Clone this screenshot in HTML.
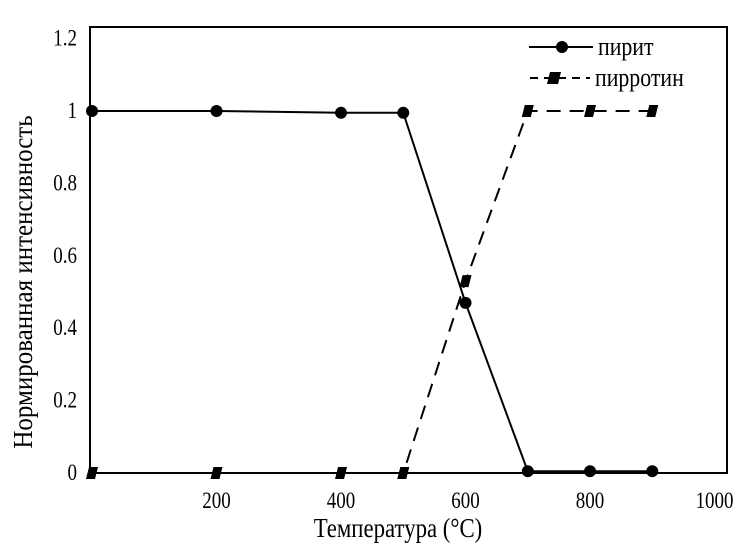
<!DOCTYPE html>
<html><head><meta charset="utf-8"><style>
body{margin:0;background:#fff}
svg{display:block;font-family:"Liberation Serif",serif}
</style></head><body>
<svg width="745" height="553" viewBox="0 0 745 553" id="chart">
<rect x="90" y="27" width="637" height="446" fill="none" stroke="#000" stroke-width="2"/>
<g id="ticks"></g>
<g id="series"></g>
<text transform="translate(398,537) scale(0.95,1.15)" font-size="24" text-anchor="middle">Температура (°C)</text>
<text transform="translate(32,282) rotate(-90) scale(1,1.1)" font-size="25" text-anchor="middle">Нормированная интенсивность</text>
<g>
<g>
<line x1="529" y1="47" x2="593" y2="47" stroke="#000" stroke-width="2"/>
<circle cx="562" cy="47" r="6" fill="#000"/>
<text transform="translate(598,55) scale(0.95,1.15)" font-size="23">пирит</text>
</g>
<g>
<line x1="530" y1="78" x2="590" y2="78" stroke="#000" stroke-width="2" stroke-dasharray="8,6"/>
<polygon points="550,72 561,72 558,84 547,84" fill="#000"/>
<text transform="translate(595,86) scale(0.95,1.15)" font-size="23">пирротин</text>
</g>
</g>
</svg>
<script>
const temps=[0,200,400,500,600,700,800,900];
const pyrite=[1,1,0.995,0.995,0.47,0.005,0.005,0.005];
const pyrrhotite=[0,0,0,0,0.53,1,1,1];
const xTicks=[200,400,600,800,1000];
const yTicks=[0,0.2,0.4,0.6,0.8,1,1.2];
const yTickLabels=["0","0.2","0.4","0.6","0.8","1","1.2"];
const NS="http://www.w3.org/2000/svg";
const X=v=>92+v*(727-92)/1020;
const Y=v=>473-v*362;
const tk=document.getElementById('ticks'),sr=document.getElementById('series');
function mk(tag,a,p){const e=document.createElementNS(NS,tag);for(const k in a)e.setAttribute(k,a[k]);p.appendChild(e);return e;}
xTicks.forEach(t=>{const e=mk('text',{transform:`translate(${X(t)},508) scale(0.95,1.15)`,'font-size':20,'text-anchor':'middle'},tk);e.textContent=t;

});
yTicks.forEach((t,i)=>{const e=mk('text',{transform:`translate(77,${Y(t)+7}) scale(0.95,1.15)`,'font-size':20,'text-anchor':'end'},tk);e.textContent=yTickLabels[i];

});
const pl=mk('polyline',{points:temps.map((t,i)=>X(t)+','+Y(pyrite[i])).join(' '),fill:'none',stroke:'#000','stroke-width':2},sr);


const ql=mk('polyline',{points:temps.map((t,i)=>X(t)+','+Y(pyrrhotite[i])).join(' '),fill:'none',stroke:'#000','stroke-width':2,'stroke-dasharray':'14,9'},sr);


temps.forEach((t,i)=>{const x=X(t),y=Y(pyrrhotite[i]);
const p=mk('polygon',{points:`${x-3},${y-6} ${x+6},${y-6} ${x+3},${y+6} ${x-6},${y+6}`,fill:'#000'},sr);

});
temps.forEach((t,i)=>{const c=mk('circle',{cx:X(t),cy:Y(pyrite[i]),r:6,fill:'#000'},sr);

});
</script>
</body></html>
